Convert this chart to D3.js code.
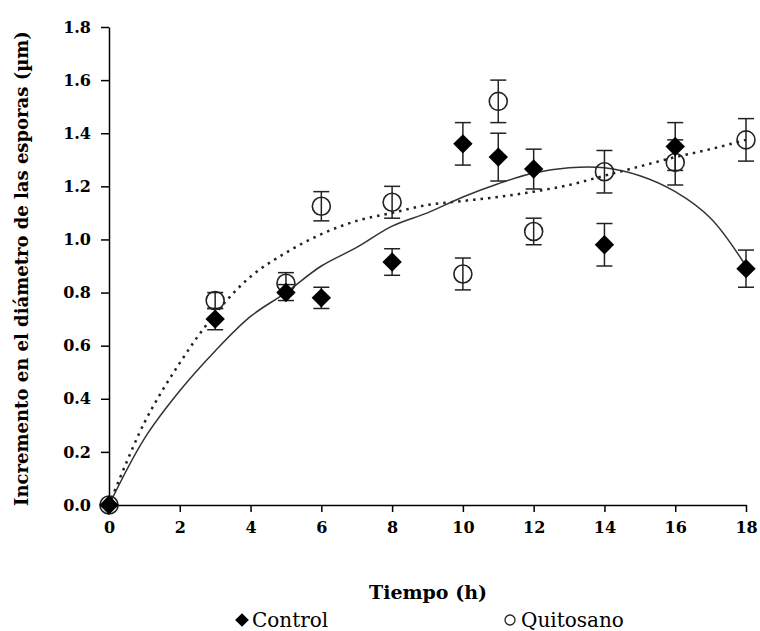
<!DOCTYPE html>
<html>
<head>
<meta charset="utf-8">
<script src="https://cdn.jsdelivr.net/npm/d3@7"></script>
<style>
  body { margin: 0; background: #fff; }
  text { font-family: "DejaVu Serif", serif; fill: #000; }
</style>
</head>
<body>
<div id="chart"></div>
<script>
// Measured times (h)
const times = [0, 3, 5, 6, 8, 10, 11, 12, 14, 16, 18];

// Control (diamonds)
const controlMean = [0, 0.70, 0.80, 0.78, 0.915, 1.36, 1.31, 1.265, 0.98, 1.35, 0.89];
const controlErr = [0, 0.04, 0.03, 0.04, 0.05, 0.08, 0.09, 0.075, 0.08, 0.09, 0.07];

// Quitosano (open circles)
const quitoMean = [0, 0.77, 0.835, 1.125, 1.14, 0.87, 1.52, 1.03, 1.255, 1.29, 1.375];
const quitoErr = [0, 0.03, 0.04, 0.055, 0.06, 0.06, 0.08, 0.05, 0.08, 0.085, 0.08];

// Trend lines, hourly
const fitTimes = [0, 1, 2, 3, 4, 5, 6, 7, 8, 9, 10, 11, 12, 13, 14, 15, 16, 17, 18];
const controlFit = [0, 0.25, 0.43, 0.58, 0.71, 0.80, 0.90, 0.97, 1.05, 1.10, 1.16, 1.21, 1.25, 1.27, 1.27, 1.24, 1.18, 1.08, 0.90];
const quitoFit = [0, 0.31, 0.535, 0.72, 0.86, 0.95, 1.02, 1.07, 1.10, 1.13, 1.145, 1.16, 1.18, 1.205, 1.24, 1.275, 1.31, 1.34, 1.375];

const xTicks = [0, 2, 4, 6, 8, 10, 12, 14, 16, 18];
const yTicks = [0, 0.2, 0.4, 0.6, 0.8, 1.0, 1.2, 1.4, 1.6, 1.8];

function draw() {
    const W = 760, H = 631;
    const svg = d3.select("#chart").append("svg")
        .attr("width", W)
        .attr("height", H);

    const x = d3.scaleLinear().domain([0, 18]).range([109, 746]);
    const y = d3.scaleLinear().domain([0, 1.8]).range([505, 27]);

    // Axes
    svg.append("g")
        .attr("transform", `translate(0,${y(0)})`)
        .call(d3.axisBottom(x).tickValues(xTicks).tickSize(7).tickPadding(10).tickSizeOuter(0)
            .tickFormat(d3.format("d")))
        .call(g => g.selectAll("path, line").attr("stroke", "#000").attr("stroke-width", 1.5))
        .call(g => g.selectAll("text").style("font-size", "16px").style("font-weight", "bold")
            .attr("font-family", null));

    svg.append("g")
        .attr("transform", `translate(${x(0)},0)`)
        .call(d3.axisLeft(y).tickValues(yTicks).tickSize(8).tickPadding(10).tickSizeOuter(0)
            .tickFormat(d3.format(".1f")))
        .call(g => g.selectAll("path, line").attr("stroke", "#000").attr("stroke-width", 1.5))
        .call(g => g.selectAll("text").style("font-size", "16px").style("font-weight", "bold")
            .attr("font-family", null));

    svg.selectAll(".domain").attr("fill", "none");

    // Axis titles
    svg.append("text")
        .attr("x", 428)
        .attr("y", 599)
        .attr("text-anchor", "middle")
        .style("font-size", "19px")
        .style("font-weight", "bold")
        .text("Tiempo (h)");

    svg.append("text")
        .attr("transform", `translate(28,${(507 + 30) / 2}) rotate(-90)`)
        .attr("text-anchor", "middle")
        .style("font-size", "18px")
        .style("font-weight", "bold")
        .text("Incremento en el diámetro de las esporas (µm)");

    // Trend lines
    const line = vals => d3.line()
        .x((d, i) => x(fitTimes[i]))
        .y(d => y(d))
        .curve(d3.curveCatmullRom.alpha(0.5))(vals);

    svg.append("path")
        .attr("d", line(quitoFit))
        .attr("fill", "none")
        .attr("stroke", "#222")
        .attr("stroke-width", 2.5)
        .attr("stroke-dasharray", "2.5,5");

    svg.append("path")
        .attr("d", line(controlFit))
        .attr("fill", "none")
        .attr("stroke", "#333")
        .attr("stroke-width", 1.5);

    // Error bars
    function errorBars(means, errs) {
        const g = svg.append("g").attr("stroke", "#222").attr("stroke-width", 1.5);
        times.forEach((t, i) => {
            if (errs[i] <= 0) return;
            const cx = x(t), y1 = y(means[i] + errs[i]), y2 = y(means[i] - errs[i]);
            g.append("line").attr("x1", cx).attr("x2", cx).attr("y1", y1).attr("y2", y2);
            g.append("line").attr("x1", cx - 8).attr("x2", cx + 8).attr("y1", y1).attr("y2", y1);
            g.append("line").attr("x1", cx - 8).attr("x2", cx + 8).attr("y1", y2).attr("y2", y2);
        });
    }
    errorBars(quitoMean, quitoErr);
    errorBars(controlMean, controlErr);

    // Quitosano markers
    svg.append("g").selectAll("circle")
        .data(times)
        .join("circle")
        .attr("cx", d => x(d))
        .attr("cy", (d, i) => y(quitoMean[i]))
        .attr("r", 9)
        .attr("fill", "none")
        .attr("stroke", "#222")
        .attr("stroke-width", 1.6);

    // Control markers
    const diamond = d3.symbol().type(d3.symbolDiamond2).size(240);
    svg.append("g").selectAll("path")
        .data(times)
        .join("path")
        .attr("transform", (d, i) => `translate(${x(d)},${y(controlMean[i])})`)
        .attr("d", diamond)
        .attr("fill", "#000");

    // Legend
    const leg = svg.append("g");
    leg.append("path")
        .attr("transform", "translate(242,620)")
        .attr("d", d3.symbol().type(d3.symbolDiamond2).size(120))
        .attr("fill", "#000");
    leg.append("text")
        .attr("x", 252)
        .attr("y", 627)
        .style("font-size", "20px")
        .text("Control");
    leg.append("circle")
        .attr("cx", 510)
        .attr("cy", 620)
        .attr("r", 5)
        .attr("fill", "none")
        .attr("stroke", "#222")
        .attr("stroke-width", 1.3);
    leg.append("text")
        .attr("x", 521)
        .attr("y", 627)
        .style("font-size", "20px")
        .text("Quitosano");
}

if (document.readyState === 'loading') {
    document.addEventListener('DOMContentLoaded', draw);
} else {
    draw();
}
</script>
</body>
</html>
